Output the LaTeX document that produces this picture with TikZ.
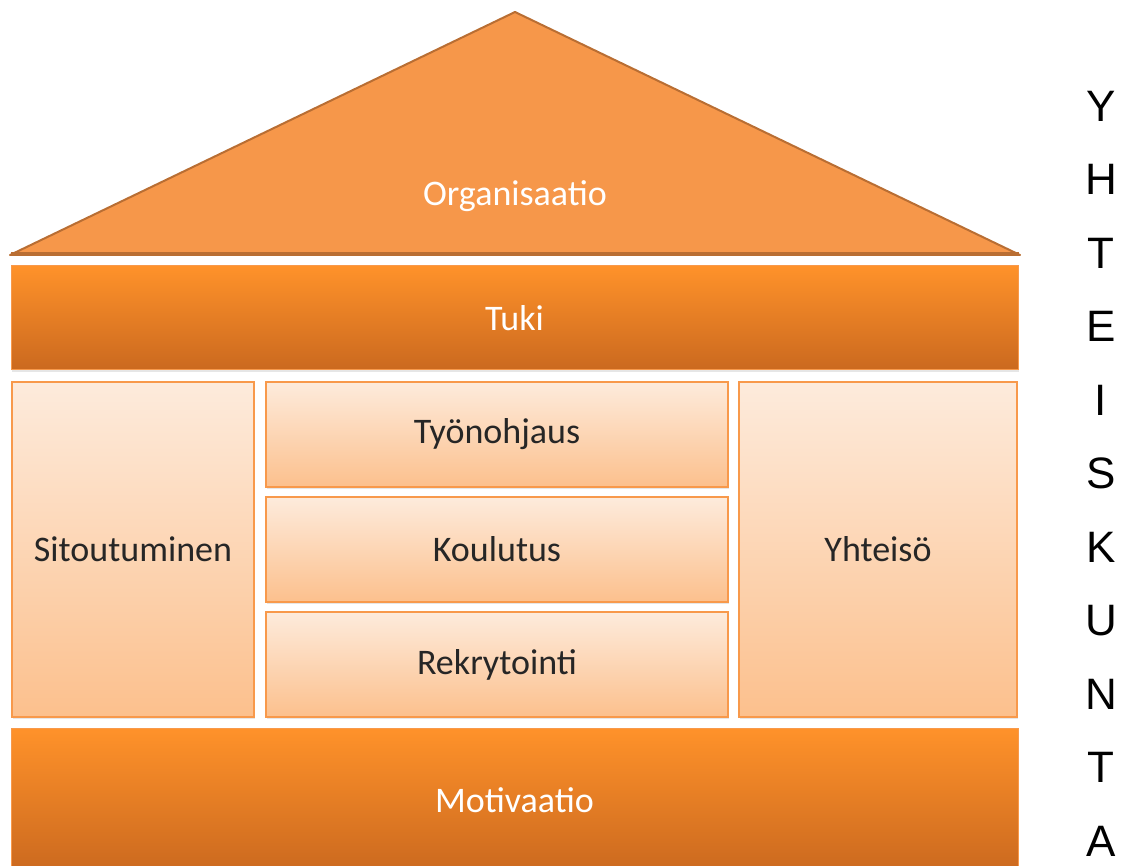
\documentclass[tikz,border=0pt]{standalone}
\usepackage{fontspec}
\setmainfont{Carlito}
\newfontfamily\lettersfont{Liberation Sans}
\usetikzlibrary{positioning}
\usetikzlibrary{shadows}

\definecolor{roofcol}{HTML}{F6974A}
\definecolor{roofline}{HTML}{B96E33}
\definecolor{bartop}{HTML}{FF922A}
\definecolor{barbot}{HTML}{CB691F}
\definecolor{lighttop}{HTML}{FDEBDC}
\definecolor{lightbot}{HTML}{FCC08D}
\definecolor{lightline}{HTML}{F8994B}

\begin{document}
\begin{tikzpicture}[x=1pt,y=-1pt,node distance=10pt,
	every node/.style={outer sep=0pt,font=\fontsize{36}{40}\selectfont},
	bar/.style={rectangle,top color=bartop,bottom color=barbot,draw=lightline,line width=1pt,text=white,minimum width=1007pt,drop shadow={opacity=0.2,shadow xshift=1pt,shadow yshift=-2pt}},
	light box/.style={rectangle,top color=lighttop,bottom color=lightbot,draw=lightline,line width=1.5pt,text=black!85,drop shadow={opacity=0.2,shadow xshift=1pt,shadow yshift=-2pt}},
	letter/.style={font=\lettersfont\fontsize{44}{48}\selectfont,text=black}]

	\useasboundingbox (0,0) rectangle (1125,866);

	% roof
	\draw[fill=roofcol,draw=roofline,line width=2pt,line join=round] (10,255) -- (515,12) -- (1020,255) -- cycle;
	\draw[roofline,line width=3.5pt] (11,254) -- (1019,254);
	\node[text=white] (org) at (515,196) {Organisaatio};

	\node[bar,minimum height=104pt] (tuki) at (514.5,318) {Tuki};

	\node[light box,minimum width=242pt,minimum height=335pt] (sit) at (133,549.5) {Sitoutuminen};
	\node[light box,minimum width=462pt,minimum height=105pt] (tyo) at (497,434.5) {Työnohjaus};
	\node[light box,minimum width=462pt,minimum height=105pt] (kou) [below=of tyo] {Koulutus};
	\node[light box,minimum width=462pt,minimum height=105pt] (rek) [below=of kou] {Rekrytointi};
	\node[light box,minimum width=278pt,minimum height=335pt] (yht) at (878,549.5) {Yhteisö};

	\node[bar,minimum height=144pt] (mot) at (514.5,800) {Motivaatio};

	\foreach \l [count=\i from 0] in {Y,H,T,E,I,S,K,U,N,T,A}
		\node[letter] (l\i) at (1101,106+73.5*\i) {\l};
\end{tikzpicture}
\end{document}
